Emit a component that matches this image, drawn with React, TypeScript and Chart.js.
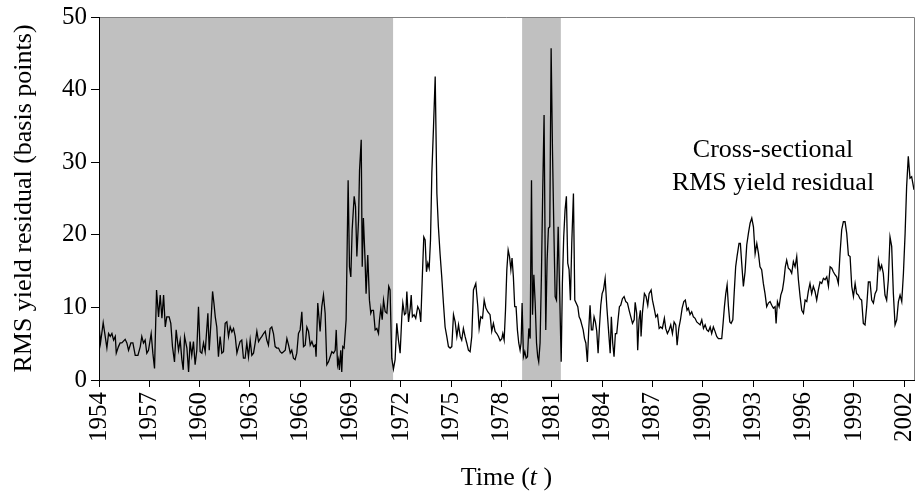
import React, { useEffect, useRef } from "react";
import { Chart, registerables } from "chart.js";

Chart.register(...registerables);

// Decimal years of each observation
const years: number[] = [
  1954.01, 1954.09, 1954.25, 1954.37, 1954.47, 1954.57, 1954.67, 1954.77, 1954.87, 1954.97,
  1955.03, 1955.16, 1955.26, 1955.36, 1955.56, 1955.66, 1955.76, 1955.90, 1956.02, 1956.16,
  1956.32, 1956.46, 1956.55, 1956.65, 1956.75, 1956.85, 1956.95, 1957.11, 1957.21, 1957.31,
  1957.43, 1957.55, 1957.65, 1957.75, 1957.85, 1957.95, 1958.04, 1958.18, 1958.28, 1958.38,
  1958.50, 1958.60, 1958.74, 1958.84, 1958.94, 1959.02, 1959.10, 1959.24, 1959.34, 1959.43,
  1959.53, 1959.63, 1959.73, 1959.83, 1959.93, 1960.03, 1960.13, 1960.23, 1960.33, 1960.49,
  1960.57, 1960.67, 1960.77, 1960.85, 1960.93, 1961.02, 1961.12, 1961.22, 1961.32, 1961.42,
  1961.52, 1961.62, 1961.72, 1961.82, 1961.92,
  1962.02, 1962.12, 1962.22, 1962.32, 1962.41, 1962.51, 1962.61, 1962.71, 1962.81, 1962.91,
  1963.01, 1963.11, 1963.21, 1963.31, 1963.41, 1963.51, 1963.61, 1963.71, 1963.81, 1963.91,
  1964.00, 1964.10, 1964.20, 1964.30, 1964.40, 1964.50, 1964.60, 1964.70, 1964.80, 1964.90,
  1965.00, 1965.10, 1965.20, 1965.30, 1965.40, 1965.49, 1965.59, 1965.69, 1965.79, 1965.89,
  1965.99, 1966.09, 1966.19, 1966.29, 1966.39, 1966.49, 1966.59, 1966.69, 1966.79, 1966.89,
  1966.94, 1967.04, 1967.18, 1967.28, 1967.38, 1967.48, 1967.58, 1967.68, 1967.78, 1967.88,
  1967.98, 1968.08, 1968.14, 1968.22, 1968.28, 1968.33, 1968.41, 1968.47, 1968.53, 1968.61,
  1968.73, 1968.85, 1968.93, 1969.01, 1969.09, 1969.21, 1969.29, 1969.37, 1969.47, 1969.53,
  1969.63, 1969.69, 1969.76, 1969.86, 1969.92, 1970.02, 1970.12, 1970.20, 1970.26, 1970.36,
  1970.46, 1970.56, 1970.66, 1970.72, 1970.80, 1970.88, 1970.96, 1971.06, 1971.16, 1971.27,
  1971.35, 1971.45, 1971.55, 1971.65, 1971.75, 1971.85, 1971.95, 1972.05, 1972.11, 1972.21,
  1972.29, 1972.35, 1972.45, 1972.55, 1972.61, 1972.68, 1972.78, 1972.88, 1973.00, 1973.10,
  1973.18, 1973.28, 1973.36, 1973.44, 1973.52, 1973.60, 1973.68, 1973.76, 1973.84, 1973.94,
  1974.04, 1974.14, 1974.23, 1974.33, 1974.43, 1974.53, 1974.63, 1974.73, 1974.83, 1974.93,
  1975.03, 1975.13, 1975.23, 1975.33, 1975.43, 1975.53, 1975.62, 1975.72, 1975.82, 1975.92,
  1976.02, 1976.12, 1976.22, 1976.32, 1976.46, 1976.58, 1976.66, 1976.76, 1976.86, 1976.96,
  1977.06, 1977.17, 1977.31, 1977.41, 1977.51, 1977.61, 1977.71, 1977.81, 1977.91, 1978.01,
  1978.07, 1978.15, 1978.23, 1978.31, 1978.39, 1978.47, 1978.55, 1978.62, 1978.70, 1978.78,
  1978.86, 1978.94, 1979.02, 1979.10, 1979.16, 1979.22, 1979.30, 1979.38, 1979.46, 1979.54,
  1979.62, 1979.70, 1979.78, 1979.84, 1979.92, 1980.00, 1980.08, 1980.15, 1980.21, 1980.29,
  1980.37, 1980.45, 1980.53, 1980.63, 1980.71, 1980.79, 1980.87, 1980.95, 1981.03, 1981.11,
  1981.19, 1981.27, 1981.37, 1981.45, 1981.55, 1981.62, 1981.70, 1981.78, 1981.86, 1981.94,
  1982.02, 1982.10, 1982.18, 1982.28, 1982.36, 1982.44, 1982.54, 1982.62, 1982.70, 1982.78,
  1982.86, 1982.94, 1983.02, 1983.11, 1983.19, 1983.27, 1983.35, 1983.43, 1983.51, 1983.59,
  1983.67, 1983.75, 1983.83, 1983.91, 1983.99, 1984.07, 1984.17, 1984.27, 1984.37, 1984.47,
  1984.54, 1984.62, 1984.70, 1984.78, 1984.86, 1984.94, 1985.02, 1985.10, 1985.20, 1985.30,
  1985.40, 1985.50, 1985.60, 1985.70, 1985.80, 1985.90, 1985.96, 1986.05, 1986.11, 1986.19,
  1986.27, 1986.31, 1986.39, 1986.51, 1986.61, 1986.71, 1986.79, 1986.91, 1986.99, 1987.09,
  1987.19, 1987.29, 1987.39, 1987.48, 1987.58, 1987.70, 1987.78, 1987.88, 1987.98, 1988.08,
  1988.18, 1988.28, 1988.38, 1988.46, 1988.56, 1988.66, 1988.76, 1988.86, 1988.95, 1989.05,
  1989.13, 1989.23, 1989.33, 1989.43, 1989.53, 1989.63, 1989.73, 1989.83, 1989.93, 1990.03,
  1990.13, 1990.23, 1990.33, 1990.43, 1990.52, 1990.62, 1990.72, 1990.82, 1990.92, 1991.02,
  1991.12, 1991.20, 1991.28, 1991.36, 1991.44, 1991.52, 1991.60, 1991.68, 1991.78, 1991.86,
  1991.95, 1992.03, 1992.15, 1992.23, 1992.31, 1992.41, 1992.51, 1992.61, 1992.71, 1992.81,
  1992.91, 1993.01, 1993.11, 1993.21, 1993.31, 1993.40, 1993.50, 1993.60, 1993.70, 1993.80,
  1993.90, 1994.00, 1994.10, 1994.20, 1994.30, 1994.36, 1994.44, 1994.54, 1994.64, 1994.74,
  1994.83, 1994.91, 1994.99, 1995.09, 1995.19, 1995.29, 1995.39, 1995.49, 1995.59, 1995.69,
  1995.79, 1995.89, 1995.99, 1996.09, 1996.19, 1996.28, 1996.38, 1996.48, 1996.58, 1996.68,
  1996.78, 1996.88, 1996.98, 1997.08, 1997.18, 1997.28, 1997.38, 1997.48, 1997.58, 1997.68,
  1997.77, 1997.87, 1997.97, 1998.07, 1998.17, 1998.27, 1998.37, 1998.47, 1998.57, 1998.67,
  1998.77, 1998.87, 1998.97, 1999.07, 1999.16, 1999.26, 1999.36, 1999.46, 1999.56, 1999.66,
  1999.76, 1999.86, 1999.96, 2000.06, 2000.16, 2000.26, 2000.36, 2000.46, 2000.56, 2000.65,
  2000.75, 2000.85, 2000.95, 2001.05, 2001.15, 2001.25, 2001.35, 2001.45, 2001.55, 2001.65,
  2001.75, 2001.85, 2001.95, 2002.05, 2002.14, 2002.24, 2002.34, 2002.44, 2002.58,
];

// Cross-sectional RMS yield residual, basis points
const rms: number[] = [
  7.3, 5.1, 7.9, 6.0, 4.4, 6.4, 6.0, 6.4, 5.5, 6.0,
  3.7, 4.6, 5.1, 5.1, 5.6, 5.1, 4.1, 5.1, 5.1, 3.4,
  3.4, 4.6, 6.0, 5.1, 5.5, 3.7, 4.1, 6.4, 3.7, 1.6,
  12.4, 8.7, 11.7, 8.5, 11.7, 7.3, 8.7, 8.7, 7.8, 4.6,
  2.5, 6.9, 4.1, 5.5, 2.8, 1.4, 6.0, 4.4, 1.1, 5.3,
  3.4, 5.3, 2.1, 4.1, 10.1, 3.9, 3.7, 5.1, 3.9, 9.2,
  4.1, 7.8, 12.2, 10.6, 8.7, 7.3, 3.2, 6.0, 3.7, 3.9,
  7.8, 8.0, 6.0, 7.3, 6.6,
  7.1, 6.0, 3.7, 4.6, 5.3, 5.5, 3.0, 3.0, 5.1, 3.2,
  5.5, 3.4, 3.7, 5.1, 6.7, 5.3, 5.7, 6.0, 6.4, 6.7,
  5.5, 4.8, 7.1, 7.3, 6.4, 4.6, 4.4, 4.4, 3.9, 3.7,
  3.9, 4.1, 5.7, 4.8, 3.7, 4.1, 3.0, 2.8, 3.7, 6.4,
  6.9, 9.4, 4.6, 4.8, 7.3, 6.7, 4.8, 5.3, 4.6, 4.8,
  3.2, 10.6, 6.7, 10.1, 11.7, 9.2, 2.1, 2.5, 3.2, 3.9,
  3.7, 4.1, 6.9, 2.1, 2.8, 1.4, 4.1, 1.1, 4.6, 4.4,
  8.3, 27.5, 15.6, 14.2, 20.7, 25.3, 23.9, 17.0, 22.0, 28.9,
  33.1, 15.6, 22.3, 16.5, 11.9, 17.2, 11.0, 9.2, 9.6, 9.6,
  6.9, 7.1, 6.4, 8.3, 9.9, 8.3, 11.0, 9.4, 9.2, 12.9,
  12.4, 3.0, 1.5, 2.8, 7.8, 5.5, 3.7, 8.7, 10.6, 9.0,
  9.2, 12.2, 8.0, 9.9, 11.7, 8.7, 9.0, 8.5, 10.1, 9.6,
  8.0, 14.7, 19.7, 19.3, 14.9, 16.1, 15.4, 19.3, 28.5, 34.9,
  41.8, 25.7, 21.1, 17.4, 14.2, 10.6, 7.3, 6.0, 4.6, 4.4,
  4.6, 9.0, 8.0, 6.0, 7.6, 6.0, 5.5, 7.1, 6.0, 5.1,
  4.1, 3.9, 6.0, 12.4, 13.3, 10.1, 7.1, 8.7, 8.5, 11.0,
  9.9, 9.4, 9.0, 6.7, 7.8, 6.7, 6.4, 6.0, 5.4, 5.7,
  6.4, 5.5, 9.6, 15.2, 17.9, 17.0, 15.2, 16.8, 14.2, 10.1,
  10.1, 6.9, 5.1, 4.1, 5.1, 10.6, 3.2, 3.9, 3.0, 3.2,
  7.1, 5.7, 27.5, 9.0, 14.5, 10.6, 5.1, 3.2, 2.5, 5.1,
  14.2, 26.2, 36.5, 6.9, 16.5, 20.9, 21.1, 45.7, 31.7, 21.1,
  11.5, 11.0, 21.1, 12.9, 2.5, 13.3, 19.7, 23.4, 25.3, 16.1,
  15.2, 11.0, 18.8, 25.7, 11.0, 10.6, 10.1, 8.7, 8.3, 7.6,
  6.9, 5.7, 5.1, 2.5, 6.9, 10.3, 6.9, 6.9, 8.7, 8.0,
  6.7, 3.7, 7.3, 10.3, 11.9, 12.4, 14.0, 10.1, 6.9, 3.7,
  8.7, 5.1, 3.2, 6.4, 6.4, 8.3, 10.1, 10.3, 11.2, 11.5,
  10.8, 10.6, 9.6, 8.7, 7.8, 8.3, 10.7, 9.2, 4.1, 8.3,
  9.6, 6.0, 9.2, 11.9, 11.5, 10.3, 11.9, 12.4, 11.0, 9.9,
  8.7, 9.0, 7.1, 7.3, 7.1, 8.5, 7.1, 6.4, 6.9, 7.6,
  6.4, 8.0, 7.6, 4.8, 7.1, 8.3, 9.9, 10.8, 11.0, 9.6,
  9.9, 9.0, 9.4, 8.7, 8.5, 8.0, 7.8, 7.6, 8.3, 7.1,
  7.6, 6.9, 6.7, 7.3, 6.4, 7.3, 6.7, 6.0, 5.7, 5.7,
  5.7, 7.8, 10.1, 11.9, 13.1, 10.1, 8.0, 7.8, 8.3, 11.9,
  15.6, 17.0, 18.8, 18.8, 16.1, 12.9, 14.9, 18.6, 20.2, 21.6,
  22.3, 21.1, 17.4, 18.8, 17.4, 15.6, 15.2, 13.3, 11.9, 10.1,
  10.6, 10.8, 10.3, 9.9, 10.1, 7.8, 10.8, 10.1, 11.7, 12.4,
  13.8, 15.6, 16.5, 15.4, 15.2, 14.7, 16.3, 15.6, 17.0, 13.8,
  11.5, 9.6, 9.2, 11.0, 10.8, 12.2, 13.3, 11.9, 12.9, 12.2,
  11.0, 12.4, 13.5, 13.3, 14.0, 13.8, 14.2, 12.9, 15.6, 15.4,
  14.9, 14.5, 14.2, 13.3, 17.4, 20.7, 21.8, 21.8, 20.2, 17.2,
  17.0, 12.9, 11.5, 13.3, 11.9, 11.7, 11.2, 11.0, 7.8, 7.6,
  10.1, 13.5, 13.5, 11.0, 10.6, 11.9, 12.4, 16.5, 15.2, 15.8,
  14.7, 11.7, 11.0, 13.8, 19.7, 18.4, 11.9, 7.6, 8.3, 10.8,
  11.7, 10.8, 14.7, 20.2, 26.6, 30.8, 27.8, 28.0, 26.2,
];

const tickYears: number[] = [1954, 1957, 1960, 1963, 1966, 1969, 1972, 1975, 1978, 1981, 1984, 1987, 1990, 1993, 1996, 1999, 2002];
const yTicks: number[] = [0, 10, 20, 30, 40, 50];
const xMin = 1954;
const xMax = 2002.58;
const shadeStarts: number[] = [1954, 1979.22];
const shadeEnds: number[] = [1971.53, 1981.53];
const annotationLines: string[] = ["Cross-sectional", "RMS yield residual"];
const yTitle = "RMS yield residual (basis points)";

const FONT = "'Liberation Serif', 'Times New Roman', serif";
const TICK_SIZE = 25;
const TITLE_SIZE = 26;
const NOTE_SIZE = 26;

export default function App() {
  const ref = useRef<HTMLCanvasElement>(null);

  useEffect(() => {
    const canvas = ref.current;
    if (!canvas) return;

    const shadePlugin = {
      id: "shade",
      beforeDatasetsDraw(chart: any) {
        const { ctx, chartArea, scales } = chart;
        const x = scales.x;
        ctx.save();
        ctx.fillStyle = "#c0c0c0";
        shadeStarts.forEach((s, i) => {
          const x0 = x.getPixelForValue(s);
          const x1 = x.getPixelForValue(shadeEnds[i]);
          ctx.fillRect(x0, chartArea.top, x1 - x0, chartArea.bottom - chartArea.top);
        });
        ctx.restore();
      },
      afterDatasetsDraw(chart: any) {
        const { ctx, chartArea } = chart;
        const { left, right, top, bottom } = chartArea;
        ctx.save();
        ctx.lineWidth = 1;
        ctx.strokeStyle = "#808080";
        ctx.beginPath();
        ctx.moveTo(left, top + 0.5);
        ctx.lineTo(right + 0.5, top + 0.5);
        ctx.lineTo(right + 0.5, bottom);
        ctx.stroke();
        ctx.strokeStyle = "#000";
        ctx.beginPath();
        ctx.moveTo(left + 0.5, top);
        ctx.lineTo(left + 0.5, bottom + 0.5);
        ctx.lineTo(right + 1, bottom + 0.5);
        ctx.stroke();

        // annotation
        ctx.fillStyle = "#000";
        ctx.font = `${NOTE_SIZE}px ${FONT}`;
        ctx.textAlign = "center";
        ctx.textBaseline = "alphabetic";
        const cx = 773;
        ctx.fillText(annotationLines[0], cx, 157);
        ctx.fillText(annotationLines[1], cx, 190);

        // y title
        ctx.save();
        ctx.font = `${TITLE_SIZE}px ${FONT}`;
        ctx.textBaseline = "middle";
        ctx.translate(24, (top + bottom) / 2);
        ctx.rotate(-Math.PI / 2);
        ctx.fillText(yTitle, 0, 0);
        ctx.restore();

        // x title with italic t
        const parts = [
          { t: "Time (", f: `${TITLE_SIZE}px ${FONT}` },
          { t: "t", f: `italic ${TITLE_SIZE}px ${FONT}` },
          { t: " )", f: `${TITLE_SIZE}px ${FONT}` },
        ];
        let total = 0;
        parts.forEach((p) => {
          ctx.font = p.f;
          total += ctx.measureText(p.t).width;
        });
        let xx = (left + right) / 2 - total / 2;
        ctx.textAlign = "left";
        ctx.textBaseline = "middle";
        parts.forEach((p) => {
          ctx.font = p.f;
          ctx.fillText(p.t, xx, 478);
          xx += ctx.measureText(p.t).width;
        });
        ctx.restore();
      },
    };

    const chart = new Chart(canvas, {
      type: "line",
      data: {
        datasets: [
          {
            data: years.map((x, i) => ({ x, y: rms[i] })),
            borderColor: "#000",
            borderWidth: 1.3,
            pointRadius: 0,
            tension: 0,
            fill: false,
          },
        ],
      },
      options: {
        animation: false,
        responsive: false,
        layout: { padding: { left: 0, right: 4, top: 17, bottom: 0 } },
        plugins: { legend: { display: false }, tooltip: { enabled: false } },
        scales: {
          x: {
            type: "linear",
            min: xMin,
            max: xMax,
            afterBuildTicks: (s: any) => {
              s.ticks = tickYears.map((v) => ({ value: v }));
            },
            afterFit: (s: any) => {
              s.height = 119;
              s.paddingLeft = 0;
              s.paddingRight = 0;
            },
            border: { display: false },
            grid: { drawOnChartArea: false, drawTicks: true, tickLength: 7, color: "#000", lineWidth: 1 },
            ticks: {
              autoSkip: false,
              minRotation: 90,
              maxRotation: 90,
              padding: 5,
              color: "#000",
              font: { family: FONT, size: TICK_SIZE },
              callback: (v: any) => String(v),
            },
          },
          y: {
            min: 0,
            max: 50,
            afterBuildTicks: (s: any) => {
              s.ticks = yTicks.map((v) => ({ value: v }));
            },
            afterFit: (s: any) => {
              s.width = 99;
              s.paddingTop = 0;
              s.paddingBottom = 0;
            },
            border: { display: false },
            grid: { drawOnChartArea: false, drawTicks: true, tickLength: 8, color: "#000", lineWidth: 1 },
            ticks: {
              padding: 4,
              color: "#000",
              font: { family: FONT, size: TICK_SIZE },
              callback: (v: any) => String(v),
            },
          },
        },
      },
      plugins: [shadePlugin],
    });

    return () => chart.destroy();
  }, []);

  return (
    <canvas
      ref={ref}
      width={918}
      height={499}
      style={{ position: "absolute", left: 0, top: 0, width: 918, height: 499 }}
    />
  );
}
